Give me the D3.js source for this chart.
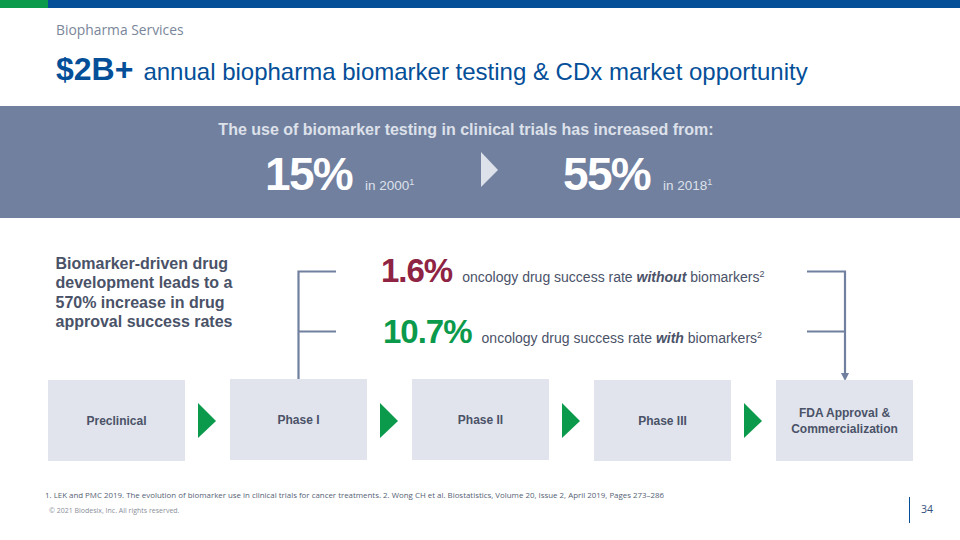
<!DOCTYPE html>
<html>
<head>
<meta charset="utf-8">
<script src="https://cdn.jsdelivr.net/npm/d3@7"></script>
<style>
html, body { margin: 0; padding: 0; background: #fff; }
svg { display: block; }
text { font-family: "Liberation Sans", Arial, sans-serif; }
.sans { font-family: "Open Sans", sans-serif; }
</style>
</head>
<body>
<svg width="960" height="540"></svg>
<script>
const stages = ["Preclinical", "Phase I", "Phase II", "Phase III", "FDA Approval &|Commercialization"];
const stageTops = [380, 379, 379, 380, 380];
const usageValues = [15, 55];
const usageYears = [2000, 2018];
const rateValues = [1.6, 10.7];
const rateWords = ["without", "with"];
const claimLines = ["Biomarker-driven drug", "development leads to a", "570% increase in drug", "approval success rates"];

const blue = "#054f99", green = "#0b9a4b", slate = "#71809f", ink = "#4a5268";
const svg = d3.select("svg");

// header
svg.append("rect").attr("width", 960).attr("height", 8).attr("fill", blue);
svg.append("rect").attr("width", 48).attr("height", 8).attr("fill", green);
svg.append("text").attr("class", "sans").attr("x", 56).attr("y", 35)
    .attr("font-size", 13.85).attr("fill", "#7a869a").text("Biopharma Services");
let title = svg.append("text").attr("x", 56).attr("y", 79.5).attr("fill", blue);
title.append("tspan").attr("font-size", 32).attr("font-weight", "bold").text("$2B+");
title.append("tspan").attr("font-size", 24).attr("dx", 10).text("annual biopharma biomarker testing & CDx market opportunity");

// banner
svg.append("rect").attr("y", 106).attr("width", 960).attr("height", 112).attr("fill", slate);
svg.append("text").attr("x", 466).attr("y", 134.5).attr("text-anchor", "middle")
    .attr("font-size", 16).attr("font-weight", "bold").attr("fill", "#dde1ea")
    .text("The use of biomarker testing in clinical trials has increased from:");

let usageX = d3.scalePoint().domain(usageYears).range([265, 563]);
let usage = svg.selectAll(".usage").data(usageYears).join("g").attr("class", "usage")
    .attr("transform", d => "translate(" + usageX(d) + ",189.5)");
usage.append("text").attr("font-size", 46).attr("font-weight", "bold").attr("fill", "#fff")
    .attr("letter-spacing", -1.7).text((d, i) => usageValues[i] + "%");
let usageNote = usage.append("text").attr("x", 100).attr("font-size", 13.5).attr("fill", "#dde1ea");
usageNote.append("tspan").text(d => "in " + d);
usageNote.append("tspan").attr("font-size", 9).attr("dy", -5).text("1");
svg.append("path").attr("d", d3.line()([[481, 152], [498, 170], [481, 187]])).attr("fill", "#dde1ea");

// claim
svg.append("g").selectAll("text").data(claimLines).join("text")
    .attr("x", 55.5).attr("y", (d, i) => 269 + i * 19.3)
    .attr("font-size", 16).attr("font-weight", "bold").attr("fill", ink).text(d => d);

// success rates
let rateY = d3.scalePoint().domain(rateValues).range([282, 343]);
let rateX = d3.scaleOrdinal().domain(rateValues).range([381, 383]);
let rateColor = d3.scaleOrdinal().domain(rateValues).range(["#8e2344", green]);
let rates = svg.selectAll(".rate").data(rateValues).join("text").attr("class", "rate")
    .attr("x", d => rateX(d)).attr("y", d => rateY(d));
rates.append("tspan").attr("font-size", 33).attr("font-weight", "bold").attr("fill", d => rateColor(d))
    .attr("letter-spacing", -1).text(d => d + "%");
let rateNote = rates.append("tspan").attr("font-size", 14).attr("fill", ink).attr("dx", 10);
rateNote.append("tspan").text("oncology drug success rate ");
rateNote.append("tspan").attr("font-weight", "bold").attr("font-style", "italic").text((d, i) => rateWords[i]);
rateNote.append("tspan").text(" biomarkers");
rates.append("tspan").attr("font-size", 9).attr("fill", ink).attr("dy", -5).text("2");

// brackets
let bracket = svg.append("g").attr("fill", "none").attr("stroke", slate).attr("stroke-width", 2.2);
bracket.append("path").attr("d", "M336,271.5H298.5V379M298.5,331.5H336");
bracket.append("path").attr("d", "M807,271.5H845V375M845,331.5H807");
svg.append("path").attr("d", d3.line()([[841, 373], [849, 373], [845, 381]])).attr("fill", slate);

// stages
let stageX = d3.scalePoint().domain(stages).range([48, 776]);
let stage = svg.selectAll(".stage").data(stages).join("g").attr("class", "stage")
    .attr("transform", (d, i) => "translate(" + stageX(d) + "," + stageTops[i] + ")");
stage.append("rect").attr("width", 137).attr("height", 81).attr("fill", "#e1e4ec");
stage.each(function(d) {
    let lines = d.split("|");
    d3.select(this).selectAll("text").data(lines).join("text")
        .attr("x", 68.5).attr("y", (l, i) => 45 + (i - (lines.length - 1) / 2) * 16)
        .attr("text-anchor", "middle").attr("font-size", 12).attr("font-weight", "bold")
        .attr("fill", ink).text(l => l);
});
svg.selectAll(".chevron").data(stages.slice(0, -1)).join("path").attr("class", "chevron")
    .attr("transform", d => "translate(" + (stageX(d) + 150) + ",403)")
    .attr("d", d3.line()([[0, 0], [18, 18], [0, 35]])).attr("fill", green);

// footer
svg.append("text").attr("class", "sans").attr("x", 45).attr("y", 497.5)
    .attr("font-size", 7.9).attr("fill", "#555f75")
    .text("1. LEK and PMC 2019. The evolution of biomarker use in clinical trials for cancer treatments. 2. Wong CH et al. Biostatistics, Volume 20, Issue 2, April 2019, Pages 273\u2013286");
svg.append("text").attr("class", "sans").attr("x", 49).attr("y", 513)
    .attr("font-size", 7).attr("fill", "#8a8f99").text("\u00a9 2021 Biodesix, Inc. All rights reserved.");
svg.append("line").attr("x1", 909.5).attr("x2", 909.5).attr("y1", 497).attr("y2", 523)
    .attr("stroke", blue).attr("stroke-width", 1);
svg.append("text").attr("class", "sans").attr("x", 921).attr("y", 513)
    .attr("font-size", 10.5).attr("fill", "#34507a").text("34");
</script>
</body>
</html>
